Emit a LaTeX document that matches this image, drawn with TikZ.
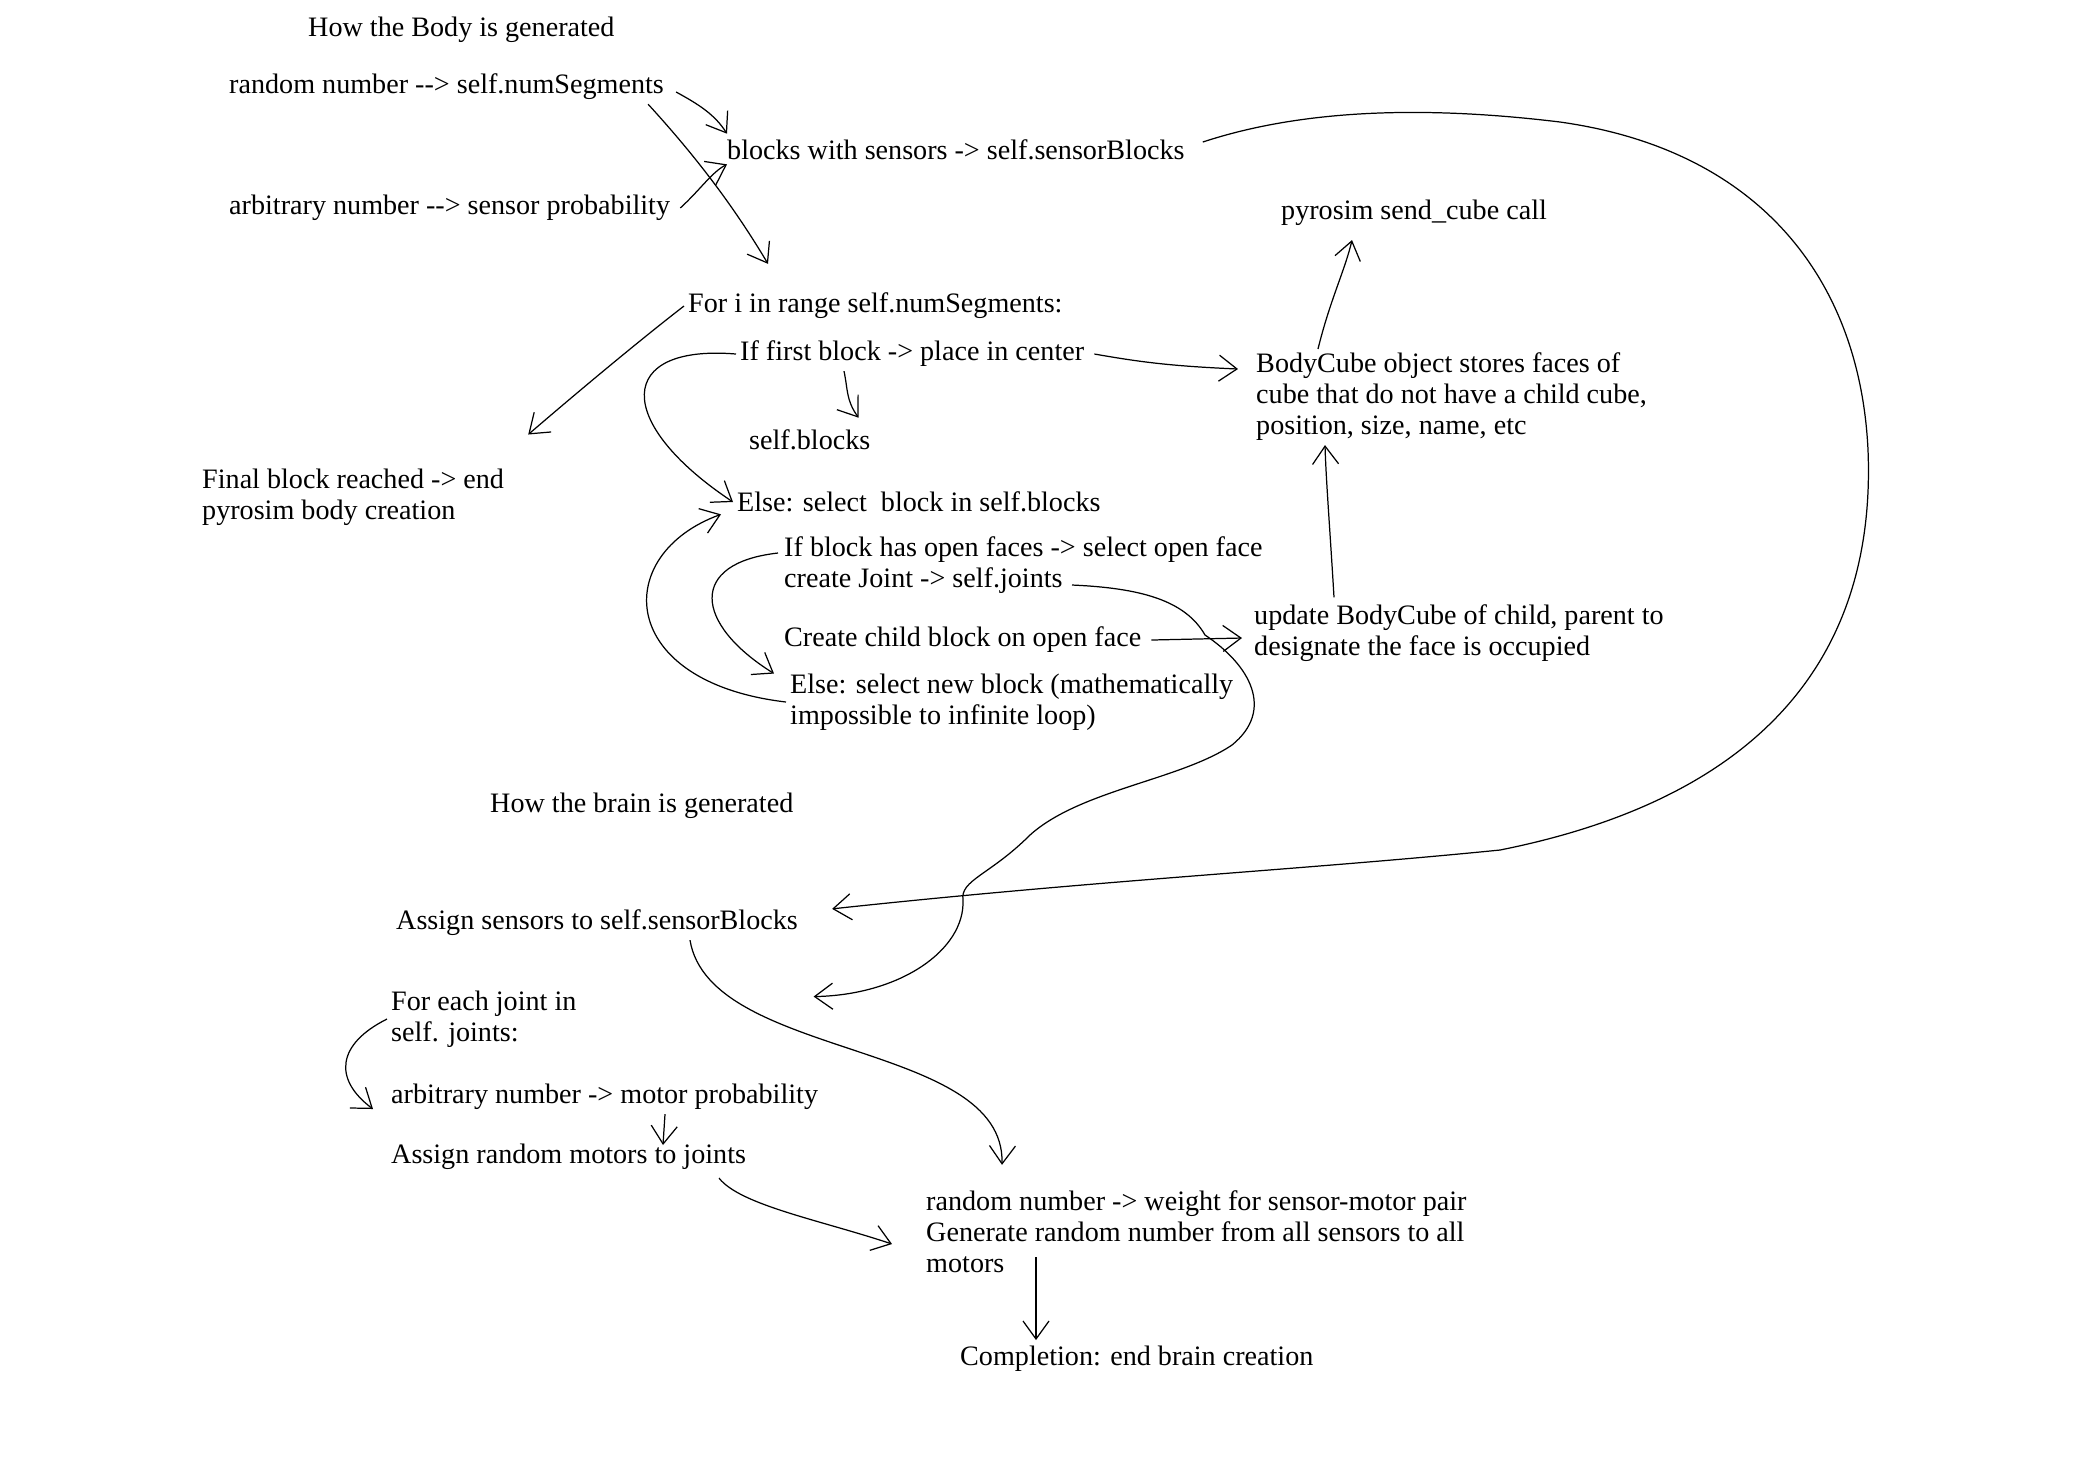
\documentclass[tikz,border=0pt]{standalone}
\usepackage{fontspec}
\setmainfont{Liberation Serif}
\usepackage{tikz}
\usetikzlibrary{arrows.meta,calc}

\begin{document}
\begin{tikzpicture}[x=0.01cm,y=-0.01cm,
    text_node/.style={anchor=west,inner sep=1pt,align=left,font=\fontsize{8}{8.8}\selectfont},
    arrow_line/.style={-{Straight Barb[length=1.8mm,width=2.6mm]},line width=0.35pt}]
    \useasboundingbox (0,0) rectangle (2100,1462);
    \node[text_node] (1) at (304,30) {How the Body is generated};
    \node[text_node] (2) at (225,87) {random number -{}-{}> self.numSegments};
    \node[text_node] (3) at (723,150) {blocks with sensors -> self.sensorBlocks};
    \node[text_node] (4) at (225,208) {arbitrary number -{}-{}> sensor probability};
    \node[text_node] (5) at (1277,213) {pyrosim send\_cube call};
    \node[text_node] (6) at (684,306) {For i in range self.numSegments:};
    \node[text_node] (7) at (736,354) {If first block -> place in center};
    \node[text_node] (8) at (1252,397) {BodyCube object stores faces of\\cube that do not have a child cube,\\position, size, name, etc};
    \node[text_node] (9) at (745,440) {self.blocks};
    \node[text_node] (10) at (198,497) {Final block reached -> end\\pyrosim body creation};
    \node[text_node] (11) at (733,502) {Else: select\ \ block in self.blocks};
    \node[text_node] (12) at (780,565) {If block has open faces -> select open face\\create Joint -> self.joints};
    \node[text_node] (13) at (1250,633) {update BodyCube of child, parent to\\designate the face is occupied};
    \node[text_node] (14) at (780,640) {Create child block on open face};
    \node[text_node] (15) at (786,702) {Else: select new block (mathematically\\impossible to infinite loop)};
    \node[text_node] (16) at (486,806) {How the brain is generated};
    \node[text_node] (17) at (392,923) {Assign sensors to self.sensorBlocks};
    \node[text_node] (18) at (387,1019) {For each joint in\\self. joints:};
    \node[text_node] (19) at (387,1097) {arbitrary number -> motor probability};
    \node[text_node] (20) at (387,1157) {Assign random motors to joints};
    \node[text_node] (21) at (922,1232) {random number -> weight for sensor-motor pair\\Generate random number from all sensors to all\\motors};
    \node[text_node] (22) at (956,1359) {Completion: end brain creation};
    \draw[arrow_line] ($(2.east)+(8,5)$) .. controls (700,105) and (715,115) .. ($(3.north west)+(4,-2)$);
    \draw[arrow_line] ($(2.south east)+(-20,0)$) .. controls (690,150) and (730,200) .. ($(6.north west)+(84,-25)$);
    \draw[arrow_line] ($(4.east)+(6,0)$) .. controls (700,190) and (712,172) .. ($(3.south west)+(4,0)$);
    \draw[arrow_line] (6.west) .. controls (640,340) and (580,390) .. ($(10.north east)+(20,-30)$);
    \draw[arrow_line] ($(7.east)+(6,0)$) .. controls (1140,362) and (1170,366) .. ($(8.west)+(-14,-28)$);
    \draw[arrow_line] ($(7.south west)+(108,0)$) .. controls (848,390) and (846,400) .. ($(9.north east)+(-16,-8)$);
    \draw[arrow_line] (7.west) .. controls +(-120,-10) and +(-120,-80) .. (11.west);
    \draw[arrow_line] ($(8.north west)+(66,0)$) .. controls (1330,300) and (1345,270) .. ($(5.south west)+(75,10)$);
    \draw[arrow_line] ($(13.north west)+(84,-3)$) .. controls (1330,530) and (1326,480) .. ($(8.south west)+(73,0)$);
    \draw[arrow_line] ($(14.east)+(6,0)$) -- ($(13.west)+(-8,5)$);
    \draw[arrow_line] ($(12.west)+(-2,-12)$) .. controls +(-90,10) and +(-80,-50) .. ($(15.north west)+(-12,4)$);
    \draw[arrow_line] (15.west) .. controls +(-170,-20) and +(-110,40) .. ($(11.south west)+(-12,-2)$);
    \draw[arrow_line] ($(12.west)+(292,20)$) .. controls (1140,588) and (1185,600) .. (1205,635)
        .. controls (1250,665) and (1275,710) .. (1232,745)
        .. controls (1180,780) and (1080,790) .. (1030,835)
        .. controls (990,875) and (960,880) .. (963,900)
        .. controls (965,950) and (900,995) .. ($(18.north east)+(233,10)$);
    \draw[arrow_line] ($(3.east)+(14,-8)$) .. controls (1300,110) and (1420,105) .. (1560,122)
        .. controls (1760,150) and (1860,280) .. (1868,450)
        .. controls (1875,620) and (1800,790) .. (1500,850)
        .. controls (1300,870) and (1100,880) .. ($(17.north east)+(30,3)$);
    \draw[arrow_line] ($(17.south west)+(298,0)$) .. controls (710,1060) and (1005,1040) .. ($(21.north west)+(80,-22)$);
    \draw[arrow_line] (18.west) .. controls +(-50,25) and +(-40,-30) .. ($(19.west)+(-14,12)$);
    \draw[arrow_line] ($(19.south west)+(278,0)$) -- ($(20.north west)+(276,5)$);
    \draw[arrow_line] ($(20.south west)+(332,4)$) .. controls (740,1205) and (820,1220) .. ($(21.west)+(-30,12)$);
    \draw[arrow_line] ($(21.south west)+(114,-20)$) .. controls (1036,1290) and (1036,1310) .. ($(22.north west)+(80,-2)$);
\end{tikzpicture}
\end{document}
